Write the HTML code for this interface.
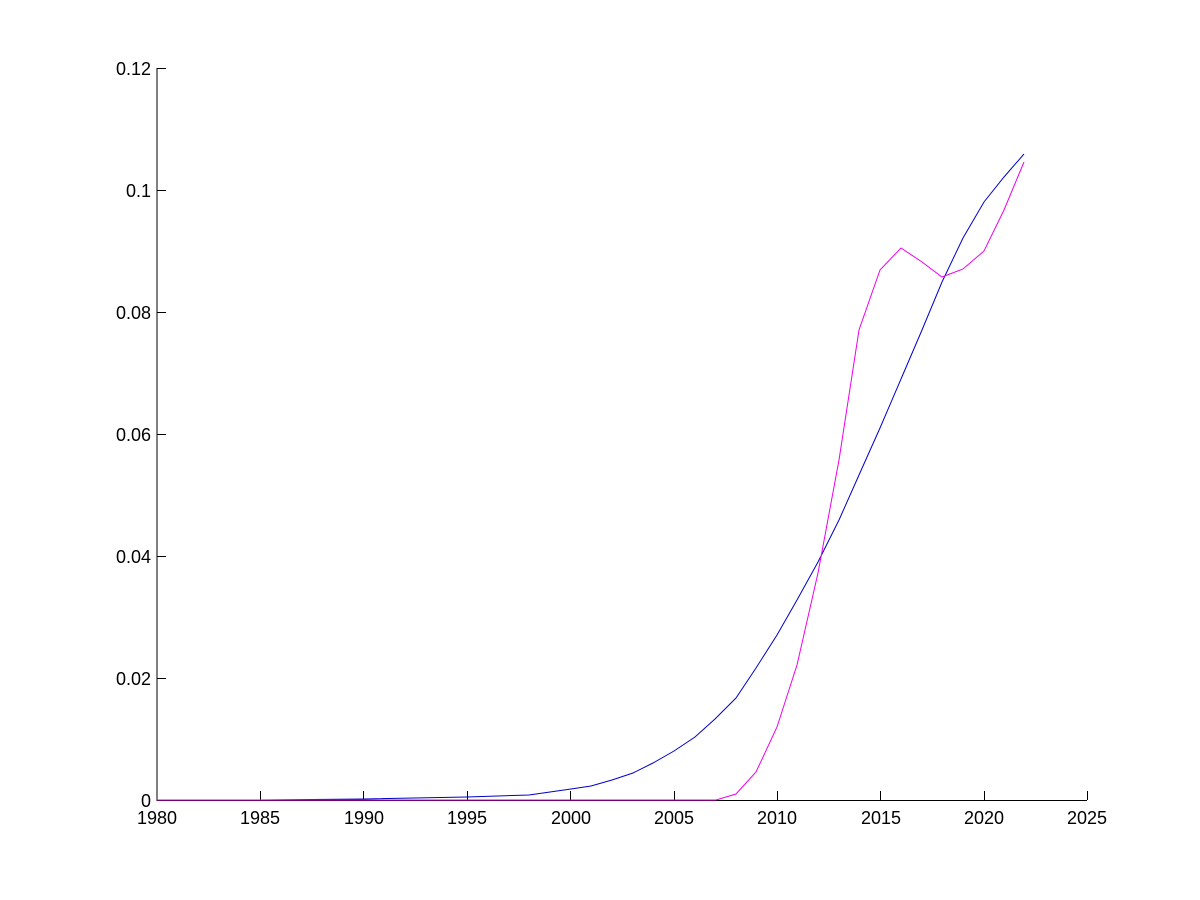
<!DOCTYPE html>
<html><head><meta charset="utf-8"><style>
html,body{margin:0;padding:0;background:#fff;}
svg{display:block;}
text{font-family:"Liberation Sans",Arial,sans-serif;font-size:18px;fill:#000;}
</style></head><body>
<svg width="1200" height="900" viewBox="0 0 1200 900">
<rect width="1200" height="900" fill="#fff"/>
<g stroke="#000" stroke-width="1" fill="none">
<line x1="157" y1="68" x2="157" y2="801"/>
<line x1="157" y1="800.5" x2="1087" y2="800.5"/>
<line x1="157" y1="68.5" x2="166" y2="68.5"/>
<line x1="157" y1="190.5" x2="166" y2="190.5"/>
<line x1="157" y1="312.5" x2="166" y2="312.5"/>
<line x1="157" y1="434.5" x2="166" y2="434.5"/>
<line x1="157" y1="556.5" x2="166" y2="556.5"/>
<line x1="157" y1="678.5" x2="166" y2="678.5"/>
<line x1="260.5" y1="800" x2="260.5" y2="791"/>
<line x1="363.5" y1="800" x2="363.5" y2="791"/>
<line x1="467.5" y1="800" x2="467.5" y2="791"/>
<line x1="570.5" y1="800" x2="570.5" y2="791"/>
<line x1="674.5" y1="800" x2="674.5" y2="791"/>
<line x1="777.5" y1="800" x2="777.5" y2="791"/>
<line x1="880.5" y1="800" x2="880.5" y2="791"/>
<line x1="984.5" y1="800" x2="984.5" y2="791"/>
<line x1="1087.5" y1="800" x2="1087.5" y2="791"/>
</g>
<g text-anchor="end">
<text x="151" y="75">0.12</text>
<text x="151" y="197">0.1</text>
<text x="151" y="319">0.08</text>
<text x="151" y="441">0.06</text>
<text x="151" y="563">0.04</text>
<text x="151" y="685">0.02</text>
<text x="151" y="807">0</text>
</g>
<g text-anchor="middle">
<text x="157" y="824">1980</text>
<text x="260" y="824">1985</text>
<text x="364" y="824">1990</text>
<text x="467" y="824">1995</text>
<text x="571" y="824">2000</text>
<text x="674" y="824">2005</text>
<text x="777" y="824">2010</text>
<text x="881" y="824">2015</text>
<text x="984" y="824">2020</text>
<text x="1087" y="824">2025</text>
</g>
<polyline fill="none" stroke="#0000cc" stroke-width="1" points="157,800 260,800 364,799 467,797 529,795 550,792 571,789 591,786 612,780 633,773 653,763 674,751 695,737 715,719 736,698 756,668 777,635 797,600 818,562 839,520 859,475 880,428 901,379 922,330 942,282 963,238 984,202 1004,177 1024,154"/>
<polyline fill="none" stroke="#ee00ee" stroke-width="1" points="157,800 716,800 736,794 756,772 777,727 797,665 818,573 839,460 859,330 880,270 901,248 922,262 942,277 963,269 984,251 1004,210 1024,162"/>
</svg>
</body></html>
